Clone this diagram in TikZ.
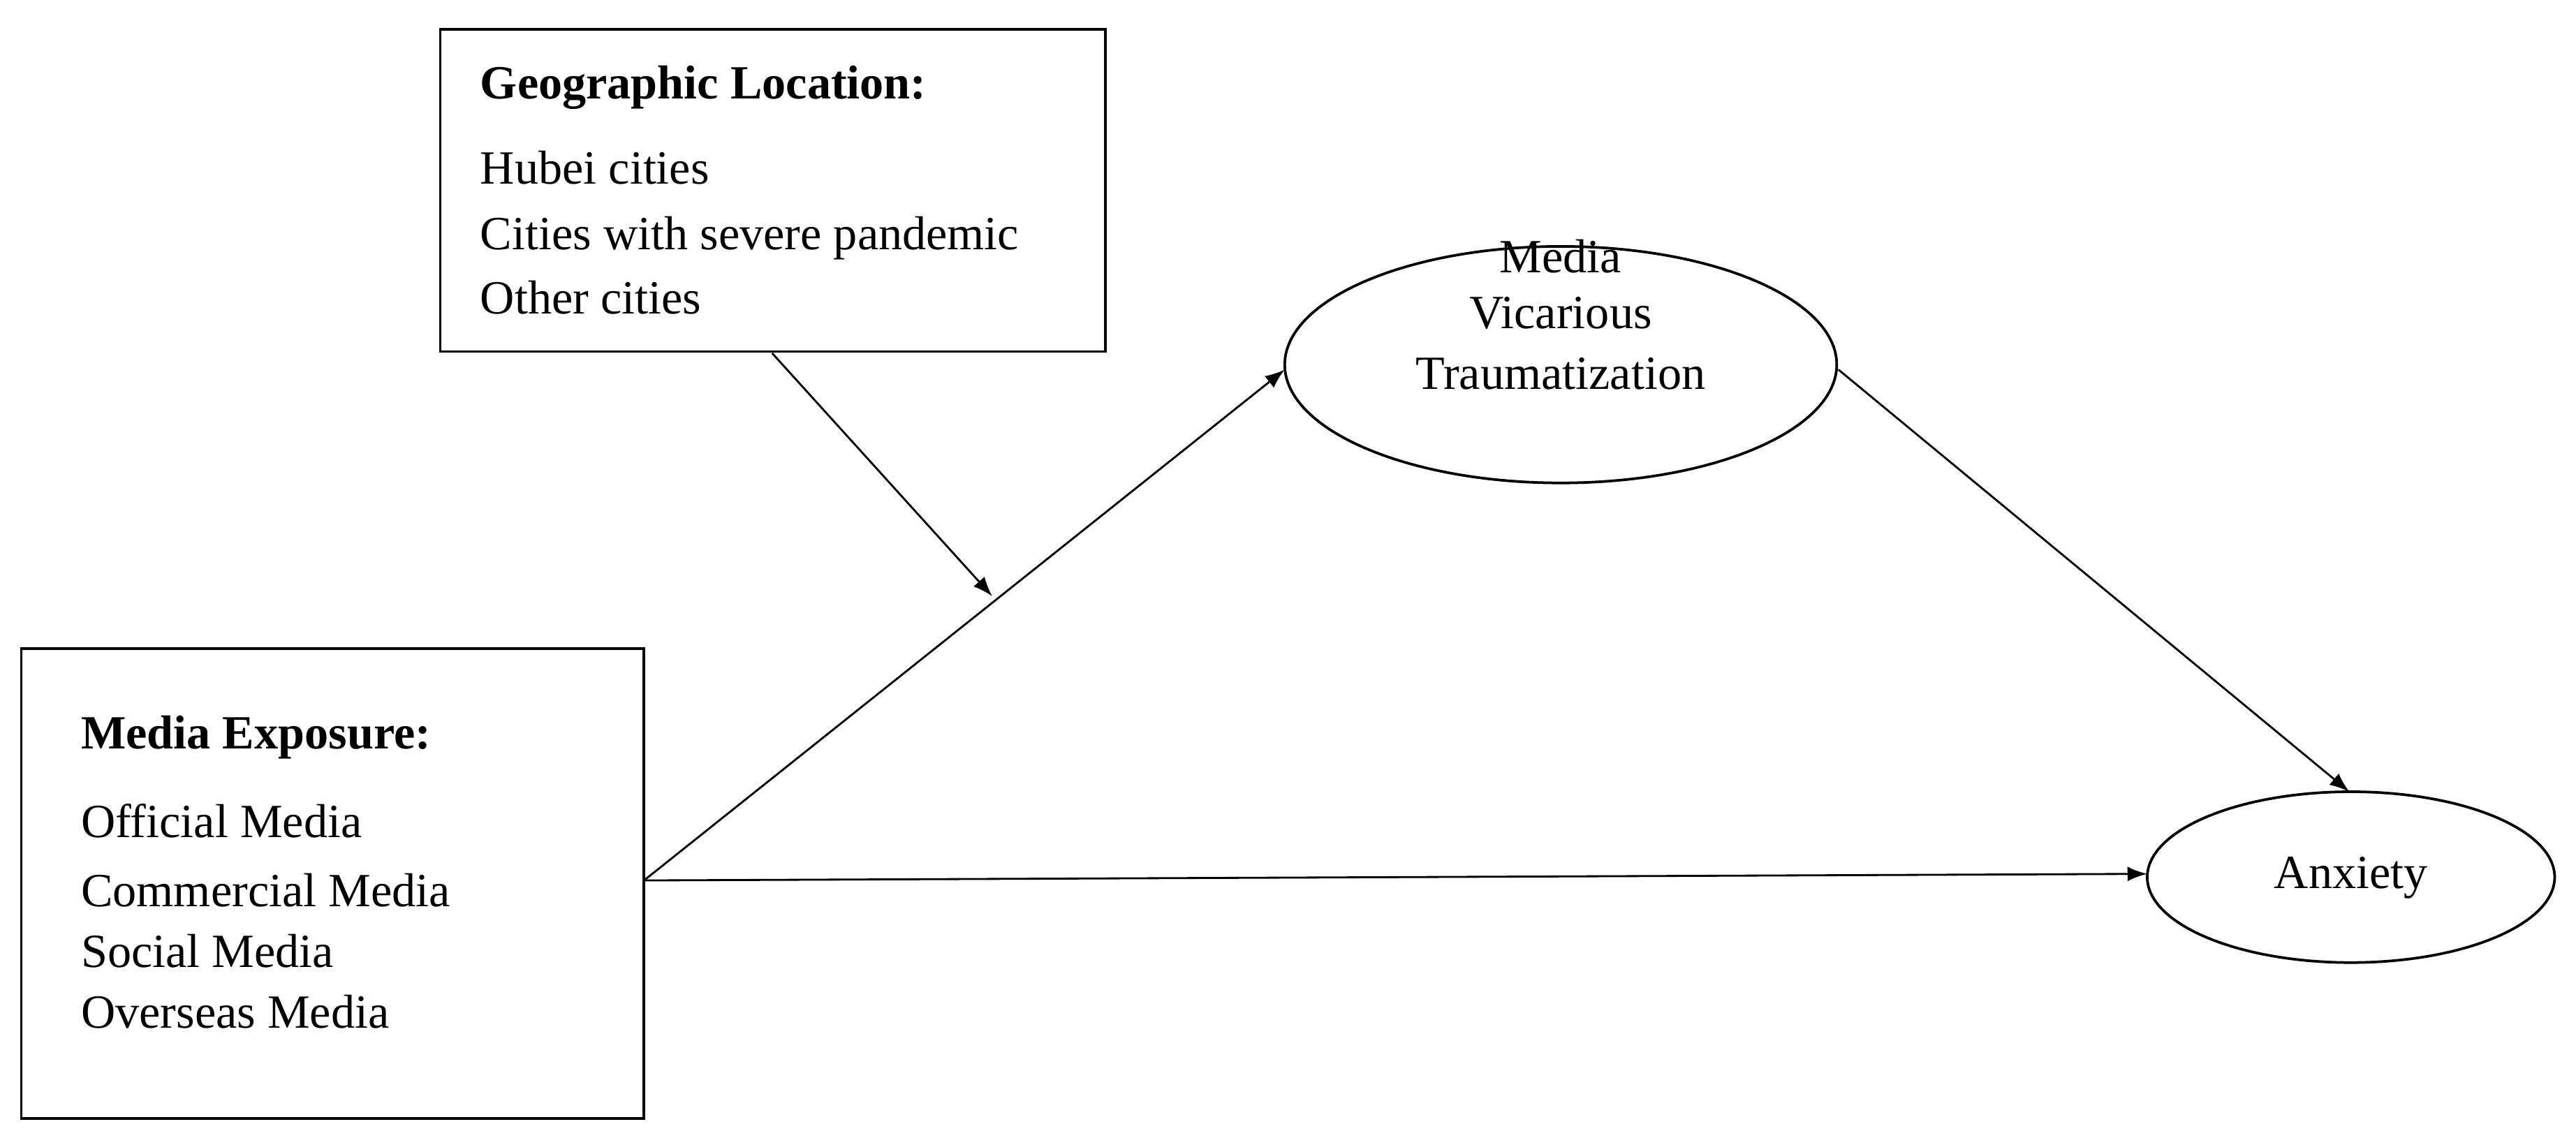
\documentclass[tikz,border=0pt]{standalone}
\usepackage{fontspec}
\setmainfont{Liberation Serif}
\usetikzlibrary{arrows.meta}
\begin{document}
\begin{tikzpicture}[x=0.5pt,y=-0.5pt,
  txt/.style={anchor=base west,inner sep=0pt,font=\fontsize{14.5}{17}\selectfont},
  ctxt/.style={anchor=base,inner sep=0pt,font=\fontsize{14.5}{17}\selectfont},
  box/.style={draw,line width=0.8pt},
  arr/.style={-{Latex[length=6pt,width=4.5pt]},line width=0.6pt}]
\useasboundingbox (0,0) rectangle (1568,697);
\draw[box] (268,18) rectangle (673,214);
\node[txt,font=\fontsize{14.5}{17}\selectfont\bfseries] (gt) at (292,60) {Geographic Location:};
\node[txt] (g1) at (292,112) {Hubei cities};
\node[txt] (g2) at (292,152) {Cities with severe pandemic};
\node[txt] (g3) at (292,191) {Other cities};
\draw[box] (13,395) rectangle (392,681);
\node[txt,font=\fontsize{14.5}{17}\selectfont\bfseries] (mt) at (49,456) {Media Exposure:};
\node[txt] (m1) at (49,510) {Official Media};
\node[txt] (m2) at (49,552) {Commercial Media};
\node[txt] (m3) at (49,589) {Social Media};
\node[txt] (m4) at (49,626) {Overseas Media};
\coordinate (mb) at (392,536);
\coordinate (gb) at (470,215);
\coordinate (mid) at (604,363);
\draw[line width=0.8pt] (950,222) ellipse [x radius=168,y radius=72];
\coordinate (vl) at (782,225);
\coordinate (vr) at (1119,225);
\node[ctxt] (v1) at (950,166) {Media};
\node[ctxt] (v2) at (950,200) {Vicarious};
\node[ctxt] (v3) at (950,237) {Traumatization};
\draw[line width=0.8pt] (1431,534) ellipse [x radius=124,y radius=52];
\coordinate (al) at (1307,532);
\coordinate (at) at (1430,482);
\node[ctxt] (a) at (1431,541) {Anxiety};
\draw[arr] (mb) -- (vl);
\draw[arr] (gb) -- (mid);
\draw[arr] (mb) -- (al);
\draw[arr] (vr) -- (at);
\end{tikzpicture}
\end{document}
